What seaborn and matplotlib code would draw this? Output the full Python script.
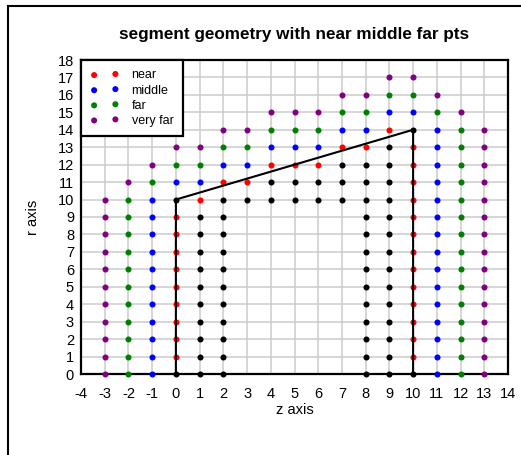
import matplotlib
matplotlib.use("Agg")
import matplotlib.pyplot as plt
import matplotlib.patches as mpatches
import seaborn as sns
import pandas as pd

# ---- data ----
near_z = [0, 0, 0, 0, 0, 0, 0, 0, 0, 1, 2, 3, 4, 5, 6, 7, 8, 9,
          10, 10, 10, 10, 10, 10, 10, 10, 10, 10, 10, 10, 10]
near_r = [1, 2, 3, 4, 5, 6, 7, 8, 9, 10, 11, 11, 12, 12, 12, 13, 13, 14,
          1, 2, 3, 4, 5, 6, 7, 8, 9, 10, 11, 12, 13]

middle_z = [-1, -1, -1, -1, -1, -1, -1, -1, -1, -1, -1,
            0, 1, 2, 3, 4, 5, 6, 7, 8, 9, 10,
            11, 11, 11, 11, 11, 11, 11, 11, 11, 11, 11, 11, 11, 11, 11]
middle_r = [0, 1, 2, 3, 4, 5, 6, 7, 8, 9, 10,
            11, 11, 12, 12, 13, 13, 13, 14, 14, 15, 15,
            0, 1, 2, 3, 4, 5, 6, 7, 8, 9, 10, 11, 12, 13, 14]

far_z = [-2, -2, -2, -2, -2, -2, -2, -2, -2, -2, -2,
         -1, 0, 1, 2, 3, 4, 5, 6, 7, 8, 9, 10, 11,
         12, 12, 12, 12, 12, 12, 12, 12, 12, 12, 12, 12, 12, 12, 12]
far_r = [0, 1, 2, 3, 4, 5, 6, 7, 8, 9, 10,
         11, 12, 12, 13, 13, 14, 14, 14, 15, 15, 16, 16, 15,
         0, 1, 2, 3, 4, 5, 6, 7, 8, 9, 10, 11, 12, 13, 14]

vfar_z = [-3, -3, -3, -3, -3, -3, -3, -3, -3, -3, -3,
          -2, -1, 0, 1, 2, 3, 4, 5, 6, 7, 8, 9, 10, 11, 12,
          13, 13, 13, 13, 13, 13, 13, 13, 13, 13, 13, 13, 13, 13, 13]
vfar_r = [0, 1, 2, 3, 4, 5, 6, 7, 8, 9, 10,
          11, 12, 13, 13, 14, 14, 15, 15, 15, 16, 16, 17, 17, 16, 15,
          0, 1, 2, 3, 4, 5, 6, 7, 8, 9, 10, 11, 12, 13, 14]

inner_z = [0, 0,
           1, 1, 1, 1, 1, 1, 1, 1, 1, 1,
           2, 2, 2, 2, 2, 2, 2, 2, 2, 2, 2,
           3, 4, 4, 5, 5, 6, 6, 7, 7, 7,
           8, 8, 8, 8, 8, 8, 8, 8, 8, 8, 8, 8, 8,
           9, 9, 9, 9, 9, 9, 9, 9, 9, 9, 9, 9, 9, 9,
           10, 10]
inner_r = [0, 10,
           0, 1, 2, 3, 4, 5, 6, 7, 8, 9,
           0, 1, 2, 3, 4, 5, 6, 7, 8, 9, 10,
           10, 10, 11, 10, 11, 10, 11, 10, 11, 12,
           0, 1, 2, 3, 4, 5, 6, 7, 8, 9, 10, 11, 12,
           0, 1, 2, 3, 4, 5, 6, 7, 8, 9, 10, 11, 12, 13,
           0, 14]

seg_z = [0, 0, 10, 10]
seg_r = [0, 10, 14, 0]

groups = [("near", near_z, near_r, "red"),
          ("middle", middle_z, middle_r, "blue"),
          ("far", far_z, far_r, "green"),
          ("very far", vfar_z, vfar_r, "purple")]

x_ticks = list(range(-4, 15))
y_ticks = list(range(0, 19))

# ---- style ----
sns.set_style("white")
plt.rcParams["font.family"] = ["Liberation Sans", "DejaVu Sans"]
plt.rcParams["axes.unicode_minus"] = False
for key in ["text.color", "axes.labelcolor", "xtick.color", "ytick.color"]:
    plt.rcParams[key] = "black"

fig = plt.figure(figsize=(5.21, 4.55), dpi=100)
ax = fig.add_axes([81 / 521, 1 - 374 / 455, (508 - 81) / 521, (374 - 60) / 455])

# figure border (right/bottom edges fall outside image)
fig.patches.append(mpatches.Rectangle((8 / 521, -0.1), 1.2, 1 - 6 / 455 + 0.1,
                                      transform=fig.transFigure, fill=False,
                                      edgecolor="black", linewidth=1.5, zorder=0))

for label, zs, rs, col in groups:
    df = pd.DataFrame({"z": zs, "r": rs})
    sns.scatterplot(data=df, x="z", y="r", color=col, s=19, linewidth=0,
                    label=label, ax=ax, zorder=3, clip_on=False)

df_in = pd.DataFrame({"z": inner_z, "r": inner_r})
sns.scatterplot(data=df_in, x="z", y="r", color="black", s=19, linewidth=0,
                ax=ax, zorder=4, legend=False, clip_on=False)

sns.lineplot(x=seg_z, y=seg_r, sort=False, estimator=None, color="black",
             linewidth=1.5, ax=ax, zorder=5)

ax.set_xlim(-4, 14)
ax.set_ylim(0, 18)
ax.set_xticks(x_ticks)
ax.set_yticks(y_ticks)
ax.grid(True, color="#cccccc", linewidth=1.1, zorder=0)
ax.set_axisbelow(True)
ax.tick_params(axis="both", length=0, labelsize=10.5, labelcolor="black")
ax.tick_params(axis="x", pad=9)
ax.tick_params(axis="y", pad=5)
for sp in ax.spines.values():
    sp.set_color("black")
    sp.set_linewidth(1.6)

ax.set_xlabel("z axis", fontsize=10.5, labelpad=2, color="black")
ax.set_ylabel("r axis", fontsize=10.5, labelpad=13, color="black")
ax.set_title("segment geometry with near middle far pts", fontsize=12.3,
             fontweight="bold", pad=15, color="black")

leg = ax.legend(loc="upper left", bbox_to_anchor=(0, 1), borderaxespad=0,
                scatterpoints=2, fontsize=9.0, fancybox=False, framealpha=1,
                edgecolor="black", borderpad=0.75, handlelength=2.3,
                handletextpad=1.0, labelspacing=0.25)
leg.get_frame().set_linewidth(1.6)
leg.set_zorder(10)

fig.savefig("out.png", dpi=100)
